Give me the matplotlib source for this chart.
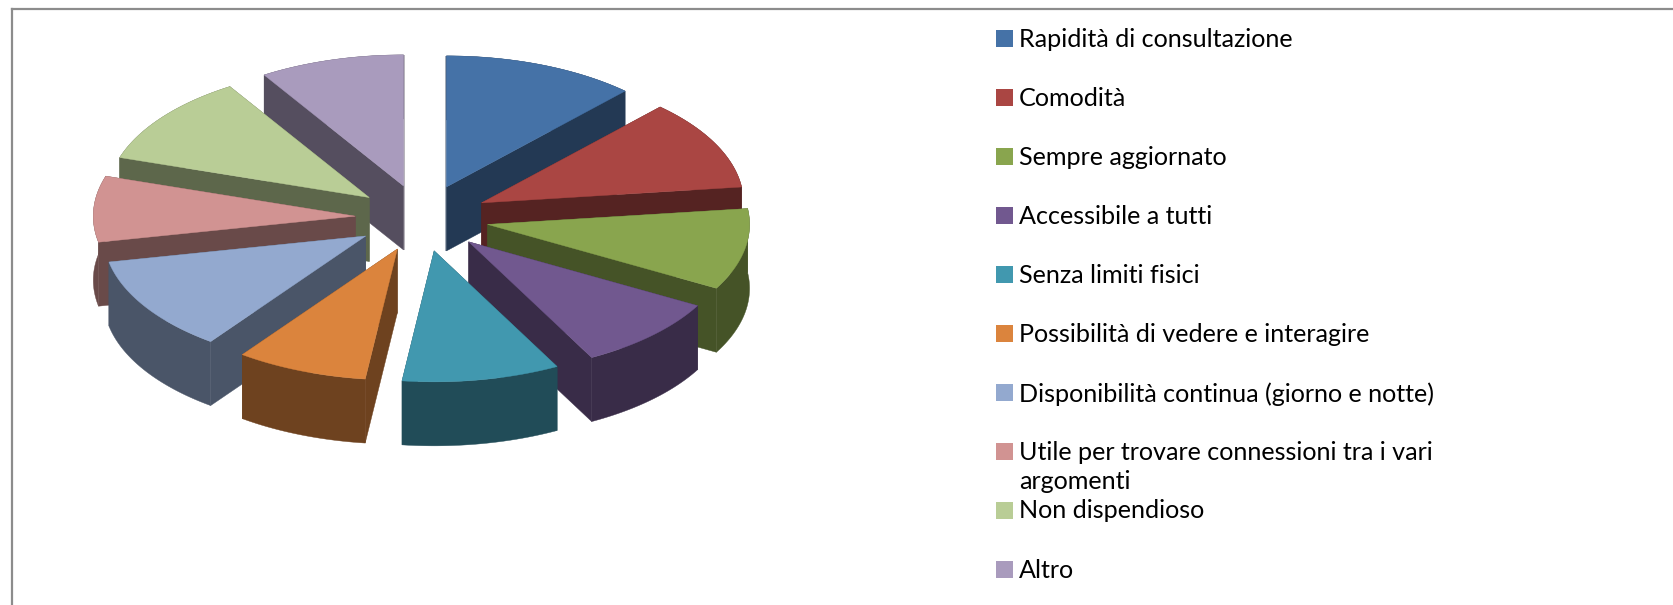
import numpy as np
import matplotlib; matplotlib.use("Agg"); import matplotlib.pyplot as plt
from matplotlib.patches import Polygon, Rectangle

labels=["Rapidità di consultazione","Comodità","Sempre aggiornato","Accessibile a tutti","Senza limiti fisici",
        "Possibilità di vedere e interagire","Disponibilità continua (giorno e notte)",
        "Utile per trovare connessioni tra i vari\nargomenti","Non dispendioso","Altro"]
values=[11.9,11.1,10.0,9.1,9.7,8.1,11.7,8.1,11.1,8.9]
colors=["#4572A7","#AA4643","#89A54E","#71588F","#4198AF","#DB843D","#93A9CF","#D19392","#B9CD96","#A99BBD"]

W,H=1674,605
cx,cy,a,b=422,218,262,131     # pie centre and ellipse radii, pixels
explode,depth=0.255,64

plt.rcParams["font.family"]=["Lato","DejaVu Sans"]
fig=plt.figure(figsize=(W/100,H/100),dpi=100)
ax=fig.add_axes([0,0,1,1]); ax.set_xlim(0,W); ax.set_ylim(H,0); ax.axis("off")

ax.plot([12,12],[H,9],color="#8c8c8c",lw=1.6)
ax.plot([12,W],[9,9],color="#8c8c8c",lw=1.6)

def dark(c,f=0.5):
    return tuple(v*f for v in matplotlib.colors.to_rgb(c))

edges=np.cumsum([0]+values)/sum(values)*2*np.pi
slices=[]
for i,c in enumerate(colors):
    t0,t1=edges[i],edges[i+1]; mid=(t0+t1)/2
    ox=cx+explode*a*np.sin(mid); oy=cy-explode*b*np.cos(mid)
    slices.append((oy,ox,t0,t1,c))

# back slices first, so the front ones cover them
for n,(oy,ox,t0,t1,c) in enumerate(sorted(slices,key=lambda s:s[0])):
    t=np.linspace(t0,t1,60)
    xs=ox+a*np.sin(t); ys=oy-b*np.cos(t)
    d=dark(c); z=n*2+2
    for xe,ye in [(xs[0],ys[0]),(xs[-1],ys[-1])]:
        ax.add_patch(Polygon([(ox,oy),(xe,ye),(xe,ye+depth),(ox,oy+depth)],fc=d,ec=d,lw=0.3,zorder=z))
    wall=np.r_[np.c_[xs,ys],np.c_[xs,ys+depth][::-1]]
    ax.add_patch(Polygon(wall,fc=d,ec=d,lw=0.3,zorder=z))
    ax.add_patch(Polygon(np.r_[[(ox,oy)],np.c_[xs,ys]],fc=c,ec=c,lw=0.3,zorder=z+1))

# legend
leg_y=[38.5,97.5,156.5,215.5,274.5,333.5,392.5,451,510,569]
for lab,c,y in zip(labels,colors,leg_y):
    ax.add_patch(Rectangle((996,y-8.5),17,17,fc=c,ec="none"))
    ax.text(1019,y-10.5,lab,fontsize=18.1,color="#000000",va="top",ha="left",linespacing=1.36)

fig.savefig("out.png",dpi=100)
